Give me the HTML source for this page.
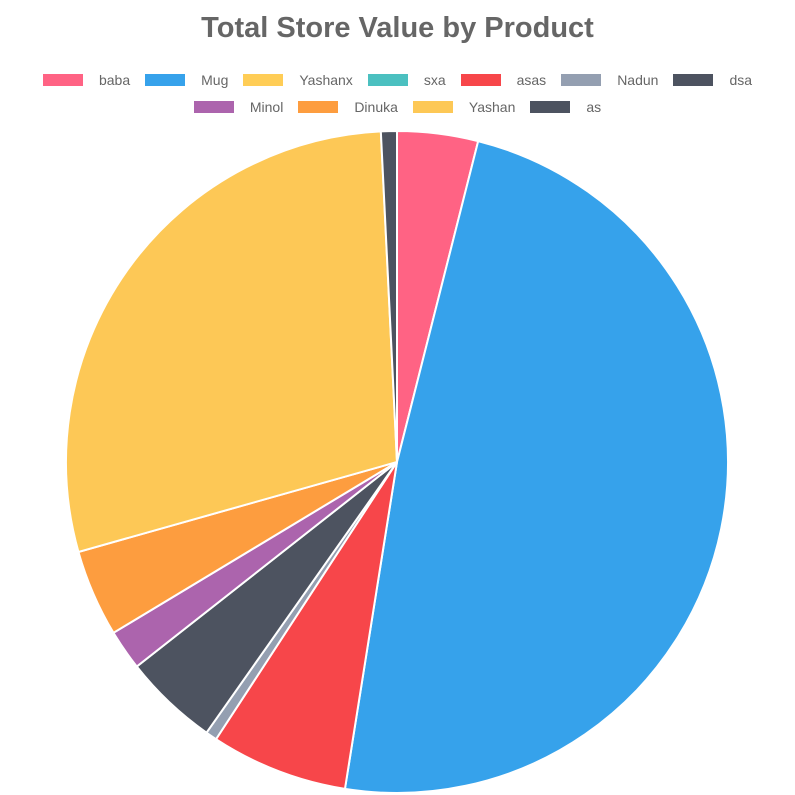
<!DOCTYPE html>
<html><head><meta charset="utf-8"><style>
body{margin:0;width:795px;height:795px;background:#fff;font-family:"Liberation Sans",Arial,sans-serif;overflow:hidden}
#title{position:absolute;top:12px;left:0;width:795px;text-align:center;font-size:29px;font-weight:bold;color:#666}
.row{position:absolute;left:0;width:795px;display:flex;justify-content:center;font-size:14px;color:#666}
.item{display:flex;align-items:center;margin:0 7.5px}
.box{width:40px;height:12px;margin-right:16px}
</style></head><body>
<div id="title">Total Store Value by Product</div>
<div class="row" id="row1" style="top:72px"></div>
<div class="row" id="row2" style="top:99px"></div>
<svg id="chart" width="795" height="795" style="position:absolute;left:0;top:0;pointer-events:none"></svg>
<script>
const labels=["baba","Mug","Yashanx","sxa","asas","Nadun","dsa","Minol","Dinuka","Yashan","as"];
const values=[14.2,174.9,0,0,24.1,2,16.7,7.1,15.3,103,2.8];
const colors=["#ff6384","#36a2eb","#ffcd56","#4bc0c0","#f7464a","#949fb1","#4d5360","#ac64ad","#fd9d3f","#fdc856","#4d5360"];
const cx=397,cy=462,r=331;
const svg=document.getElementById('chart');
const total=values.reduce((a,b)=>a+b,0);
let a=-Math.PI/2;
values.forEach((v,i)=>{
  const da=v/total*2*Math.PI;
  if(da<=0){return;}
  const a2=a+da;
  const x1=cx+r*Math.cos(a),y1=cy+r*Math.sin(a),x2=cx+r*Math.cos(a2),y2=cy+r*Math.sin(a2);
  const p=document.createElementNS('http://www.w3.org/2000/svg','path');
  p.setAttribute('d',`M${cx},${cy}L${x1},${y1}A${r},${r} 0 ${da>Math.PI?1:0} 1 ${x2},${y2}Z`);
  p.setAttribute('fill',colors[i]);p.setAttribute('stroke','#fff');p.setAttribute('stroke-width','2');
  
  
  svg.appendChild(p);
  a=a2;
});
labels.forEach((l,i)=>{
  const it=document.createElement('div');it.className='item';
  
  
  it.innerHTML=`<span class="box" style="background:${colors[i]}"></span><span>${l}</span>`;
  document.getElementById(i<7?'row1':'row2').appendChild(it);
});
</script>
</body></html>
